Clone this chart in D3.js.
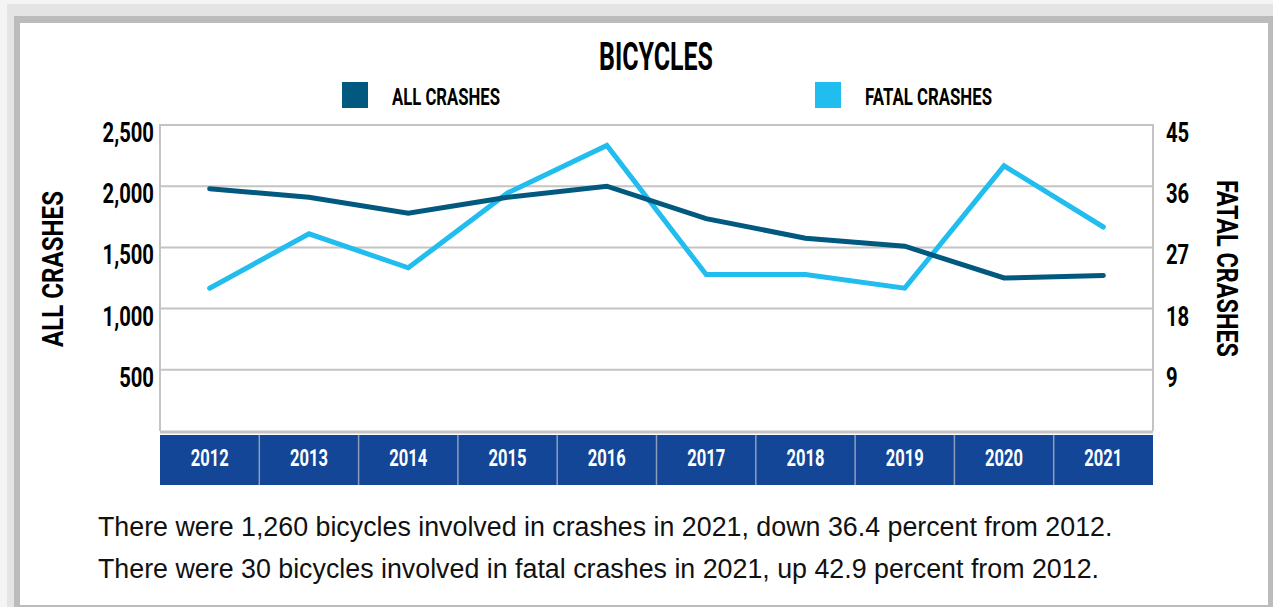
<!DOCTYPE html>
<html>
<head>
<meta charset="utf-8">
<script src="https://cdn.jsdelivr.net/npm/d3@7"></script>
<style>
  body { margin: 0; background: #ececec; }
  svg { display: block; }
</style>
</head>
<body>
<div id="my_dataviz"></div>
<script>
const years = ["2012", "2013", "2014", "2015", "2016", "2017", "2018", "2019", "2020", "2021"];
const allCrashes = [1980, 1910, 1780, 1910, 2000, 1735, 1575, 1510, 1250, 1270];
const fatalCrashes = [21, 29, 24, 35, 42, 23, 23, 21, 39, 30];
const leftTicks = [500, 1000, 1500, 2000, 2500];
const rightTicks = [9, 18, 27, 36, 45];
const notes = [
  "There were 1,260 bicycles involved in crashes in 2021, down 36.4 percent from 2012.",
  "There were 30 bicycles involved in fatal crashes in 2021, up 42.9 percent from 2012."
];

const W = 1273, H = 607;
const plot = {left: 160, right: 1153, top: 125, bottom: 431};
const cond = "Roboto, 'Liberation Sans', sans-serif";
const dark = "#02597f", light = "#20bdee";

var svg = d3.select("#my_dataviz")
  .append("svg")
    .attr("width", W)
    .attr("height", H);

// squeezed bold text (the original uses a condensed display face)
function label(parent, x, y, sx, size, anchor, txt, fill) {
  var g = parent.append("g")
    .attr("transform", "translate(" + x + "," + y + ") scale(" + sx + ",1)");
  return g.append("text")
    .attr("text-anchor", anchor)
    .attr("fill", fill || "#000")
    .style("font-family", cond)
    .style("font-weight", "bold")
    .style("font-size", size + "px")
    .text(txt);
}

// frame / card shadow
svg.append("rect").attr("x", 0).attr("y", 0).attr("width", W).attr("height", H).attr("fill", "#f4f4f4");
svg.append("rect").attr("x", 7).attr("y", 4).attr("width", W - 7).attr("height", H - 4).attr("fill", "#e4e4e4");
svg.append("rect").attr("x", 14).attr("y", 16).attr("width", W - 14).attr("height", H - 16).attr("fill", "#bcbcbc");
svg.append("rect").attr("x", 20).attr("y", 23).attr("width", 1248).attr("height", 582).attr("fill", "#fff");

// scales
var x = d3.scaleBand().domain(years).range([plot.left, plot.right]).padding(0);
var yL = d3.scaleLinear().domain([0, 2500]).range([plot.bottom, plot.top]);
var yR = d3.scaleLinear().domain([0, 45]).range([plot.bottom, plot.top]);

// gridlines
svg.append("g")
  .selectAll("line")
  .data(leftTicks)
  .enter()
  .append("line")
    .attr("x1", plot.left).attr("x2", plot.right)
    .attr("y1", d => yL(d)).attr("y2", d => yL(d))
    .style("stroke", "#c4c4c4")
    .style("stroke-width", 2);

// plot borders
svg.append("line").attr("x1", plot.left).attr("x2", plot.left).attr("y1", plot.top - 1).attr("y2", plot.bottom)
  .style("stroke", "#c4c4c4").style("stroke-width", 2);
svg.append("line").attr("x1", plot.right).attr("x2", plot.right).attr("y1", plot.top - 1).attr("y2", plot.bottom)
  .style("stroke", "#c4c4c4").style("stroke-width", 2);
svg.append("line").attr("x1", plot.left).attr("x2", plot.right).attr("y1", plot.bottom + 1).attr("y2", plot.bottom + 1)
  .style("stroke", "#c4c4c4").style("stroke-width", 3);

// year band
var band = svg.append("g");
band.selectAll("rect")
  .data(years)
  .enter()
  .append("rect")
    .attr("x", d => x(d))
    .attr("y", 435)
    .attr("width", x.bandwidth())
    .attr("height", 50)
    .attr("fill", "#134696");
band.selectAll("line")
  .data(years.slice(1))
  .enter()
  .append("line")
    .attr("x1", d => x(d)).attr("x2", d => x(d))
    .attr("y1", 435).attr("y2", 485)
    .style("stroke", "#8d9cbb")
    .style("stroke-width", 1.5);
years.forEach(function(d) {
  label(band, x(d) + x.bandwidth() / 2, 466, 0.72, 23, "middle", d, "#fff");
});

// left axis labels
var gl = svg.append("g");
leftTicks.forEach(function(d) {
  label(gl, 154, yL(d) + 17, 0.75, 27, "end", d3.format(",")(d));
});

// right axis labels
var gr = svg.append("g");
rightTicks.forEach(function(d) {
  label(gr, 1166, yR(d) + 17, 0.75, 27, "start", d);
});

// axis titles
svg.append("text")
  .attr("transform", "translate(63,269) rotate(-90)")
  .attr("text-anchor", "middle")
  .attr("textLength", 156)
  .attr("lengthAdjust", "spacingAndGlyphs")
  .style("font-family", cond)
  .style("font-weight", "bold")
  .style("font-size", "29.5px")
  .text("ALL  CRASHES");
svg.append("text")
  .attr("transform", "translate(1217,268.5) rotate(90)")
  .attr("text-anchor", "middle")
  .attr("textLength", 177)
  .attr("lengthAdjust", "spacingAndGlyphs")
  .style("font-family", cond)
  .style("font-weight", "bold")
  .style("font-size", "29.5px")
  .text("FATAL  CRASHES");

// title
svg.append("text")
  .attr("x", 656)
  .attr("y", 70)
  .attr("text-anchor", "middle")
  .attr("textLength", 114)
  .attr("lengthAdjust", "spacingAndGlyphs")
  .style("font-family", cond)
  .style("font-weight", "bold")
  .style("font-size", "38px")
  .text("BICYCLES");

// legend
var legend = [{name: "ALL CRASHES", color: dark, x: 342, w: 108}, {name: "FATAL CRASHES", color: light, x: 815, w: 127}];
var lg = svg.append("g").selectAll("g").data(legend).enter().append("g");
lg.append("rect")
  .attr("x", d => d.x).attr("y", 82)
  .attr("width", 26).attr("height", 26)
  .attr("fill", d => d.color);
lg.append("text")
  .attr("x", d => d.x + 50)
  .attr("y", 105)
  .attr("textLength", d => d.w)
  .attr("lengthAdjust", "spacingAndGlyphs")
  .style("font-family", cond)
  .style("font-weight", "bold")
  .style("font-size", "24px")
  .text(d => d.name);

// lines
var cx = d => x(d) + x.bandwidth() / 2;
var lineAll = d3.line().x((d, i) => cx(years[i])).y(d => yL(d));
var lineFatal = d3.line().x((d, i) => cx(years[i])).y(d => yR(d));

svg.append("path")
  .datum(fatalCrashes)
  .attr("d", lineFatal)
  .attr("fill", "none")
  .style("stroke", light)
  .style("stroke-width", 5)
  .style("stroke-linecap", "round");

svg.append("path")
  .datum(allCrashes)
  .attr("d", lineAll)
  .attr("fill", "none")
  .style("stroke", dark)
  .style("stroke-width", 5)
  .style("stroke-linecap", "round");

// notes
svg.append("g")
  .selectAll("text")
  .data(notes)
  .enter()
  .append("text")
    .attr("x", 98)
    .attr("y", (d, i) => 536 + i * 42)
    .attr("text-anchor", "start")
    .style("font-family", "'Liberation Sans', Arial, sans-serif")
    .style("font-size", "26.8px")
    .attr("fill", "#111")
    .text(d => d);
</script>
</body>
</html>
